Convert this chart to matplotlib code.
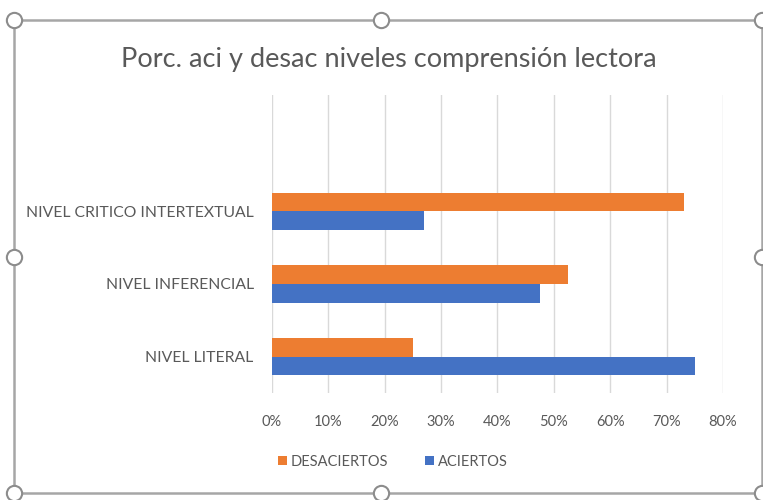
import matplotlib
matplotlib.use("Agg")
import matplotlib.pyplot as plt
from matplotlib.patches import Patch
from matplotlib.ticker import FuncFormatter
import numpy as np

plt.rcParams['font.family'] = ['Lato', 'DejaVu Sans']

title = "Porc. aci y desac niveles comprensión lectora"
categories = ["NIVEL LITERAL", "NIVEL INFERENCIAL", "NIVEL CRITICO INTERTEXTUAL"]
desaciertos = [0.25, 0.525, 0.73]
aciertos = [0.75, 0.475, 0.27]
series_names = ["DESACIERTOS", "ACIERTOS"]
xticks = [0, 0.1, 0.2, 0.3, 0.4, 0.5, 0.6, 0.7, 0.8]

orange = "#ED7D31"
blue = "#4472C4"
text_col = "#595959"
grid_col = "#D9D9D9"

W, H = 763, 500
fig = plt.figure(figsize=(W / 100, H / 100), dpi=100)

left, right = 271.7, 723
top, bottom = 95, 393
ax = fig.add_axes([left / W, (H - bottom) / H, (right - left) / W, (bottom - top) / H])

y = np.arange(len(categories))
bh = 0.255
ax.barh(y - bh / 2, aciertos, height=bh, color=blue, zorder=3)
ax.barh(y + bh / 2, desaciertos, height=bh, color=orange, zorder=3)

ax.set_xlim(0, 0.8)
ax.set_ylim(-0.5, 3.6)
ax.set_xticks(xticks)
ax.xaxis.set_major_formatter(FuncFormatter(lambda v, p: f"{v*100:.0f}%"))
ax.set_yticks(y)
ax.set_yticklabels(categories)
ax.grid(axis='x', color=grid_col, linewidth=1, zorder=0)
for s in ax.spines.values():
    s.set_visible(False)
ax.tick_params(axis='both', length=0, colors=text_col, labelsize=10.5)
ax.tick_params(axis='y', labelsize=11.3, pad=13)
ax.tick_params(axis='x', pad=16)

fig.text(389 / W, 1 - 60 / H, title, ha='center', va='center', fontsize=19.5, color=text_col)

handles = [Patch(facecolor=orange, edgecolor='none'), Patch(facecolor=blue, edgecolor='none')]
fig.legend(handles, series_names, loc='center', bbox_to_anchor=(393 / W, 1 - 462 / H), ncol=2,
           frameon=False, fontsize=10.5, labelcolor=text_col, handlelength=0.6, handleheight=0.6,
           handletextpad=0.3, columnspacing=2.5)

# chart frame with selection handles
ov = fig.add_axes([0, 0, 1, 1], zorder=10)
ov.set_xlim(0, W)
ov.set_ylim(H, 0)
ov.axis('off')
ov.patch.set_alpha(0)
fx0, fx1, fy0, fy1 = 14, 762, 20, 493
ov.plot([fx0, fx1, fx1, fx0, fx0], [fy0, fy0, fy1, fy1, fy0], color="#A6A6A6", linewidth=1.8)
hx = [fx0, (fx0 + fx1) / 2 - 7, fx1, fx0, fx1, fx0, (fx0 + fx1) / 2 - 7, fx1]
hy = [fy0, fy0, fy0, 257, 257, fy1, fy1, fy1]
ov.plot(hx, hy, linestyle='none', marker='o', markersize=11, markerfacecolor='white',
        markeredgecolor="#8C8C8C", markeredgewidth=1.5)

fig.savefig("out.png", dpi=100, facecolor='white')
